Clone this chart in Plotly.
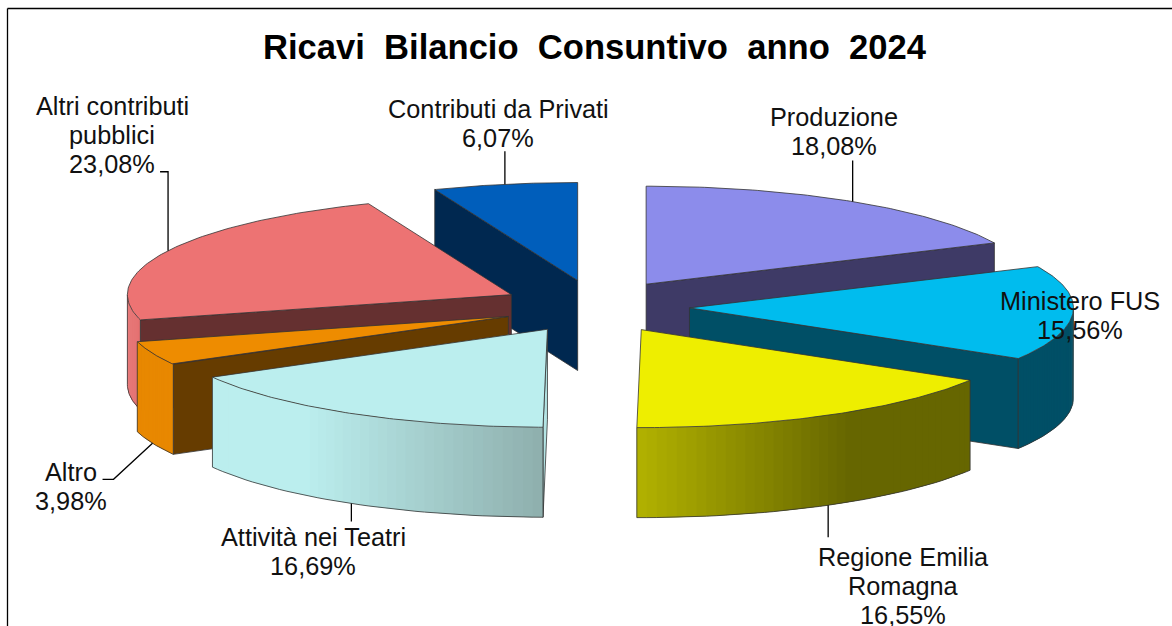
"""Ricavi Bilancio Consuntivo 2024: exploded 3D-look pie, built from projected wedges."""

import numpy as np
import plotly.graph_objects as go

# Data, clockwise from 12 o'clock
CATEGORIES = [
    "Produzione",
    "Ministero FUS",
    "Regione Emilia<br>Romagna",
    "Attività nei Teatri",
    "Altro",
    "Altri contributi<br>pubblici",
    "Contributi da Privati",
]
VALUES = [18.08, 15.56, 16.55, 16.69, 3.98, 23.08, 6.07]
TITLE = "Ricavi\u00a0\u00a0Bilancio\u00a0\u00a0Consuntivo\u00a0\u00a0anno\u00a0\u00a02024"

# Colours per slice: top face, side face, rim stops as (x fraction, colour)
TOP_COLORS = ["#8c8ceb", "#00bcee", "#eeee00", "#bbeeee", "#ee8c00", "#ed7373", "#005ebb"]
SIDE_COLORS = ["#3e3a66", "#004f66", "#666600", "#b4e4e4", "#663c00", "#653030", "#002850"]
RIM_STOPS = [
    [(0, "#3e3a66"), (1, "#3e3a66")],
    [(0, "#004f66"), (1, "#004f66")],
    [(0, "#b4b400"), (0.65, "#666600"), (1, "#666600")],
    [(0, "#bbeeee"), (0.3, "#bbeeee"), (1, "#8fb0ae")],
    [(0, "#e88800"), (1, "#e88800")],
    [(0, "#e57070"), (1, "#e57070")],
    [(0, "#002850"), (1, "#002850")],
]

# Back-to-front painting order
DRAW_ORDER = [6, 0, 5, 1, 4, 2, 3]

# Pie projection, in page pixels
CENTER_X, CENTER_Y = 595.5, 306.5
RADIUS_X, RADIUS_Y = 384, 98
DEPTH = 90
PULL_X, PULL_Y = 0.245, 0.27
EDGE = dict(color="#333333", width=0.8)

# Label centres and leader routes for each slice (offsets from the slice's rim midpoint)
LABEL_POS = [(834, 131), (1080, 315), (903, 586), (313, 551), (71, 486), (112, 135), (498, 123)]
LINE_HEIGHT = 29
LEADERS = [
    [(0, 0), (0, -41)],
    [],
    [(0, 0), (0, 32)],
    [(0, 0), (0, 18)],
    [(0, 0), (-39, 36), (-50, 36)],
    [(0, 0), (0, -79), (-8, -79)],
    [(0, 0), (0, -33)],
]


def to_rgb(color):
    return np.array([int(color[i:i + 2], 16) for i in (1, 3, 5)], dtype=float)


def rim_color(stops, t):
    xs = [s[0] for s in stops]
    channels = np.array([to_rgb(s[1]) for s in stops])
    rgb = [np.interp(t, xs, channels[:, i]) for i in range(3)]
    return "rgb({:.0f},{:.0f},{:.0f})".format(*rgb)


def polygon(xs, ys, fill, line=None):
    return go.Scatter(
        x=list(xs),
        y=list(ys),
        mode="lines",
        fill="toself",
        fillcolor=fill,
        line=line or dict(color=fill, width=0),
        hoverinfo="skip",
        showlegend=False,
    )


def rim_point(apex, angle):
    return apex[0] + RADIUS_X * np.sin(angle), apex[1] - RADIUS_Y * np.cos(angle)


fractions = np.array(VALUES) / sum(VALUES)
ends = np.cumsum(fractions) * 2 * np.pi
starts = ends - fractions * 2 * np.pi
mids = (starts + ends) / 2
apexes = [
    (CENTER_X + PULL_X * RADIUS_X * np.sin(m), CENTER_Y - PULL_Y * RADIUS_Y * np.cos(m))
    for m in mids
]

fig = go.Figure()

for idx in DRAW_ORDER:
    apex = apexes[idx]
    start, end = starts[idx], ends[idx]

    # radial side faces that look towards the viewer
    for angle, visible in ((start, np.sin(start) < 0), (end, np.sin(end) > 0)):
        if visible:
            px, py = rim_point(apex, angle)
            fig.add_trace(
                polygon(
                    [apex[0], px, px, apex[0], apex[0]],
                    [apex[1], py, py + DEPTH, apex[1] + DEPTH, apex[1]],
                    SIDE_COLORS[idx],
                    EDGE,
                )
            )

    # outer rim, only the part on the front half of the ellipse
    front_start, front_end = max(start, np.pi / 2), min(end, 3 * np.pi / 2)
    if front_end > front_start:
        steps = np.linspace(front_start, front_end, 41)
        xs_all, ys_all = rim_point(apex, steps)
        x_lo, x_hi = xs_all.min(), xs_all.max()
        for i in range(len(steps) - 1):
            # each band runs into the next one so no seams show between them
            ax, ay = rim_point(apex, steps[i])
            bx, by = rim_point(apex, steps[min(i + 2, len(steps) - 1)])
            t = (ax - x_lo) / max(x_hi - x_lo, 1)
            fig.add_trace(
                polygon(
                    [ax, bx, bx, ax, ax],
                    [ay, by, by + DEPTH, ay + DEPTH, ay],
                    rim_color(RIM_STOPS[idx], t),
                )
            )
        fig.add_trace(
            go.Scatter(
                x=[xs_all[0], xs_all[0], *xs_all, xs_all[-1]],
                y=[ys_all[0], ys_all[0] + DEPTH, *(ys_all + DEPTH), ys_all[-1]],
                mode="lines",
                line=EDGE,
                hoverinfo="skip",
                showlegend=False,
            )
        )

    # top face
    arc = np.linspace(start, end, 90)
    arc_x, arc_y = rim_point(apex, arc)
    fig.add_trace(
        polygon(
            [apex[0], *arc_x, apex[0]],
            [apex[1], *arc_y, apex[1]],
            TOP_COLORS[idx],
            EDGE,
        )
    )

# leader lines start from the slice's own rim midpoint
for idx, route in enumerate(LEADERS):
    if not route:
        continue
    base_x, base_y = rim_point(apexes[idx], mids[idx])
    if np.cos(mids[idx]) < 0:
        base_y += DEPTH
    fig.add_trace(
        go.Scatter(
            x=[base_x + dx for dx, _ in route],
            y=[base_y + dy for _, dy in route],
            mode="lines",
            line=dict(color="#000000", width=1.3),
            hoverinfo="skip",
            showlegend=False,
        )
    )

# each label line is its own annotation to hold the tight line spacing
for name, value, (lx, ly) in zip(CATEGORIES, VALUES, LABEL_POS):
    lines = name.split("<br>") + [f"{value:.2f}%".replace(".", ",")]
    for n, line_text in enumerate(lines):
        fig.add_annotation(
            x=lx,
            y=ly + (n - (len(lines) - 1) / 2) * LINE_HEIGHT,
            text=line_text,
            showarrow=False,
            xanchor="center",
            yanchor="middle",
            font=dict(family="Liberation Sans", size=25.3, color="#111111"),
        )

fig.add_annotation(
    x=595,
    y=47,
    text=TITLE,
    showarrow=False,
    font=dict(family="Liberation Sans", size=34.6, color="#000000", weight="bold"),
)

# outer frame, open on the right and bottom
frame = dict(color="#000000", width=1.3)
fig.add_shape(type="line", x0=7.5, x1=1172, y0=8.5, y1=8.5, line=frame)
fig.add_shape(type="line", x0=7.5, x1=7.5, y0=8.5, y1=626, line=frame)

fig.update_layout(
    width=1172,
    height=626,
    margin=dict(l=0, r=0, t=0, b=0),
    paper_bgcolor="#ffffff",
    plot_bgcolor="#ffffff",
    xaxis=dict(range=[0, 1172], visible=False, fixedrange=True),
    yaxis=dict(range=[626, 0], visible=False, fixedrange=True),
)

fig.write_html(
    "out.html",
    config={"displayModeBar": False},
    post_script="document.body.style.margin='0';document.body.style.overflow='hidden';",
)
